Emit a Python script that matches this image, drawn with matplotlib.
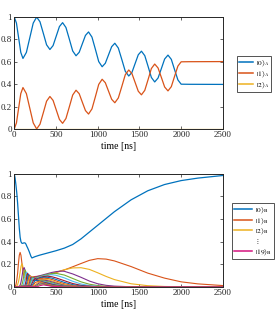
import matplotlib
matplotlib.use("Agg")
import matplotlib.pyplot as plt
from matplotlib.lines import Line2D

# ---- top panel: qubit A populations ----
t_a = [0, 26, 52, 78, 104, 145, 186, 227, 268, 308, 348, 387, 427, 465, 503, 541,
       579, 619, 660, 700, 740, 778, 815, 853, 890, 931, 972, 1012, 1053, 1091, 1129,
       1167, 1205, 1247, 1289, 1330, 1372, 1410, 1448, 1486, 1524, 1564, 1604, 1643,
       1683, 1723, 1763, 1802, 1842, 1882, 1921, 1961, 2000, 2100, 2500]
p0_a = [1.0, 0.946, 0.815, 0.684, 0.63, 0.684, 0.815, 0.946, 1.0, 0.958, 0.855, 0.752,
        0.71, 0.745, 0.83, 0.915, 0.95, 0.907, 0.802, 0.697, 0.654, 0.685, 0.76, 0.836,
        0.867, 0.821, 0.712, 0.602, 0.556, 0.587, 0.661, 0.735, 0.766, 0.723, 0.62, 0.516,
        0.473, 0.505, 0.584, 0.663, 0.695, 0.655, 0.558, 0.46, 0.42, 0.455, 0.54, 0.625,
        0.66, 0.622, 0.53, 0.438, 0.40, 0.399, 0.398]
p1_a = [0.0, 0.054, 0.185, 0.316, 0.37, 0.316, 0.185, 0.054, 0.0, 0.042, 0.145, 0.248,
        0.29, 0.255, 0.17, 0.085, 0.05, 0.093, 0.198, 0.303, 0.346, 0.315, 0.24, 0.164,
        0.133, 0.179, 0.288, 0.398, 0.444, 0.413, 0.339, 0.265, 0.234, 0.277, 0.38, 0.484,
        0.527, 0.495, 0.416, 0.337, 0.305, 0.345, 0.442, 0.54, 0.58, 0.545, 0.46, 0.375,
        0.34, 0.378, 0.47, 0.562, 0.60, 0.601, 0.602]
t_a2 = [0, 2500]
p2_a = [0.0, 0.0]
labels_a = [r'$|0\rangle_A$', r'$|1\rangle_A$', r'$|2\rangle_A$']

# ---- bottom panel: resonator B populations, (time, population) pairs ----
b0 = [(0, 1.0), (10, 0.96), (20, 0.90), (30, 0.83), (40, 0.74), (50, 0.63), (60, 0.52),
      (70, 0.44), (80, 0.40), (90, 0.387), (100, 0.385), (110, 0.388), (120, 0.39),
      (130, 0.388), (140, 0.378), (150, 0.36), (160, 0.345), (170, 0.328), (180, 0.31),
      (190, 0.29), (200, 0.27), (212, 0.256), (230, 0.262), (250, 0.268), (300, 0.28),
      (350, 0.29), (400, 0.30), (450, 0.31), (500, 0.32), (600, 0.343), (700, 0.375),
      (800, 0.425), (900, 0.485), (1000, 0.545), (1100, 0.605), (1200, 0.665),
      (1400, 0.77), (1600, 0.85), (1800, 0.905), (2000, 0.94), (2200, 0.962), (2500, 0.985)]
b1 = [(0, 0), (10, 0.005), (20, 0.02), (30, 0.06), (40, 0.12), (50, 0.21), (60, 0.28),
      (70, 0.305), (80, 0.28), (90, 0.22), (100, 0.16), (110, 0.115), (120, 0.09),
      (130, 0.08), (140, 0.076), (160, 0.078), (180, 0.082), (200, 0.087), (250, 0.092),
      (300, 0.095), (350, 0.099), (400, 0.105), (450, 0.115), (500, 0.127), (600, 0.15),
      (700, 0.178), (800, 0.207), (900, 0.235), (1000, 0.25), (1100, 0.246), (1200, 0.23),
      (1400, 0.18), (1600, 0.122), (1800, 0.078), (2000, 0.045), (2200, 0.027), (2500, 0.012)]
b2 = [(0, 0), (20, 0.002), (30, 0.008), (40, 0.02), (50, 0.045), (60, 0.08), (70, 0.13),
      (80, 0.18), (90, 0.205), (100, 0.19), (110, 0.15), (120, 0.11), (130, 0.08),
      (140, 0.065), (150, 0.058), (170, 0.055), (200, 0.062), (250, 0.072), (300, 0.082),
      (350, 0.093), (400, 0.105), (450, 0.118), (500, 0.13), (600, 0.152), (700, 0.168),
      (800, 0.17), (900, 0.155), (1000, 0.125), (1100, 0.093), (1200, 0.065), (1400, 0.028),
      (1600, 0.011), (1800, 0.004), (2000, 0.0015), (2500, 0)]
b3 = [(0, 0), (60, 0.005), (70, 0.015), (80, 0.04), (90, 0.08), (100, 0.13), (110, 0.165),
      (120, 0.17), (130, 0.14), (140, 0.105), (150, 0.085), (160, 0.075), (180, 0.072),
      (200, 0.075), (250, 0.087), (300, 0.098), (350, 0.108), (400, 0.118), (450, 0.128),
      (500, 0.135), (560, 0.14), (600, 0.138), (700, 0.115), (800, 0.085), (900, 0.052),
      (1000, 0.028), (1100, 0.014), (1200, 0.007), (1400, 0.0015), (2500, 0)]
b4 = [(0, 0), (80, 0.005), (90, 0.015), (100, 0.04), (110, 0.08), (120, 0.125), (130, 0.15),
      (140, 0.13), (150, 0.10), (160, 0.08), (170, 0.07), (180, 0.066), (200, 0.066),
      (250, 0.078), (300, 0.09), (350, 0.102), (400, 0.112), (450, 0.118), (500, 0.12),
      (600, 0.105), (700, 0.075), (800, 0.045), (900, 0.024), (1000, 0.012), (1100, 0.005),
      (1200, 0.002), (2500, 0)]
b5 = [(0, 0), (100, 0.005), (110, 0.02), (120, 0.05), (130, 0.09), (140, 0.125), (150, 0.13),
      (160, 0.11), (170, 0.085), (180, 0.07), (190, 0.063), (200, 0.06), (220, 0.062),
      (250, 0.07), (300, 0.085), (350, 0.097), (400, 0.105), (450, 0.108), (500, 0.103),
      (600, 0.08), (700, 0.05), (800, 0.026), (900, 0.012), (1000, 0.005), (1100, 0.002),
      (2500, 0)]
b6 = [(0, 0), (120, 0.005), (130, 0.02), (140, 0.05), (150, 0.09), (160, 0.12), (170, 0.11),
      (180, 0.085), (190, 0.068), (200, 0.06), (220, 0.058), (250, 0.065), (300, 0.08),
      (350, 0.092), (400, 0.095), (450, 0.09), (500, 0.08), (600, 0.055), (700, 0.03),
      (800, 0.014), (900, 0.006), (1000, 0.002), (2500, 0)]
b7 = [(0, 0), (130, 0.003), (140, 0.015), (150, 0.04), (160, 0.08), (170, 0.108),
      (180, 0.105), (190, 0.085), (200, 0.068), (220, 0.058), (250, 0.062), (300, 0.075),
      (350, 0.085), (400, 0.085), (450, 0.078), (500, 0.066), (600, 0.04), (700, 0.02),
      (800, 0.008), (900, 0.003), (2500, 0)]
b8 = [(0, 0), (150, 0.01), (160, 0.035), (170, 0.07), (180, 0.098), (190, 0.10), (200, 0.085),
      (220, 0.062), (250, 0.06), (300, 0.07), (350, 0.077), (400, 0.075), (450, 0.066),
      (500, 0.053), (600, 0.028), (700, 0.012), (800, 0.004), (2500, 0)]
b9 = [(0, 0), (160, 0.01), (170, 0.035), (180, 0.07), (190, 0.092), (200, 0.094), (220, 0.07),
      (250, 0.058), (300, 0.064), (350, 0.068), (400, 0.064), (450, 0.054), (500, 0.042),
      (600, 0.02), (700, 0.008), (800, 0.002), (2500, 0)]
b10 = [(0, 0), (170, 0.01), (180, 0.03), (190, 0.065), (200, 0.088), (220, 0.08), (250, 0.058),
       (300, 0.058), (350, 0.06), (400, 0.055), (450, 0.045), (500, 0.034), (600, 0.014),
       (700, 0.005), (800, 0.001), (2500, 0)]
b11 = [(0, 0), (180, 0.01), (190, 0.03), (200, 0.06), (220, 0.085), (250, 0.062), (300, 0.054),
       (350, 0.053), (400, 0.047), (450, 0.037), (500, 0.027), (600, 0.01), (700, 0.003),
       (2500, 0)]
b12 = [(0, 0), (190, 0.01), (200, 0.03), (220, 0.075), (250, 0.07), (300, 0.05), (350, 0.047),
       (400, 0.04), (450, 0.03), (500, 0.021), (600, 0.007), (700, 0.002), (2500, 0)]
b13 = [(0, 0), (200, 0.01), (220, 0.045), (250, 0.075), (300, 0.048), (350, 0.042),
       (400, 0.034), (450, 0.024), (500, 0.016), (600, 0.005), (700, 0.001), (2500, 0)]
b14 = [(0, 0), (200, 0.003), (220, 0.02), (250, 0.06), (300, 0.05), (350, 0.038), (400, 0.029),
       (450, 0.02), (500, 0.012), (600, 0.003), (2500, 0)]
b15 = [(0, 0), (220, 0.005), (250, 0.04), (300, 0.05), (350, 0.035), (400, 0.024),
       (450, 0.016), (500, 0.009), (600, 0.002), (2500, 0)]
b16 = [(0, 0), (230, 0.004), (250, 0.02), (300, 0.045), (350, 0.032), (400, 0.02),
       (450, 0.012), (500, 0.007), (600, 0.001), (2500, 0)]
b17 = [(0, 0), (240, 0.002), (250, 0.008), (300, 0.035), (350, 0.03), (400, 0.017),
       (450, 0.01), (500, 0.005), (2500, 0)]
b18 = [(0, 0), (260, 0.003), (300, 0.022), (350, 0.026), (400, 0.015), (450, 0.008),
       (500, 0.004), (2500, 0)]
b19 = [(0, 0), (280, 0.002), (300, 0.01), (350, 0.018), (400, 0.012), (450, 0.006),
       (500, 0.003), (600, 0), (2500, 0)]
states_b = [b0, b1, b2, b3, b4, b5, b6, b7, b8, b9, b10, b11, b12, b13, b14, b15, b16,
            b17, b18, b19]
labels_b = [r'$|0\rangle_{\rm B}$', r'$|1\rangle_{\rm B}$', r'$|2\rangle_{\rm B}$',
            r'$\vdots$', r'$|19\rangle_{\rm B}$']

# matlab default colour order
mcol = ['#0072BD', '#D95319', '#EDB120', '#7E2F8E', '#77AC30', '#4DBEEE', '#A2142F']
magenta = '#D4147F'

plt.rcParams['font.family'] = ['Liberation Serif', 'DejaVu Serif']
plt.rcParams['mathtext.fontset'] = 'stix'
plt.rcParams['font.size'] = 6.5

fig = plt.figure(figsize=(2.8, 3.16), dpi=100)
ax1 = fig.add_axes([0.051, 0.592, 0.745, 0.354])
ax2 = fig.add_axes([0.051, 0.092, 0.745, 0.358])

lw = 0.9
ax1.plot(t_a, p0_a, color=mcol[0], lw=lw)
ax1.plot(t_a, p1_a, color=mcol[1], lw=lw)
ax1.plot(t_a2, p2_a, color=mcol[2], lw=lw)

for k, st in enumerate(states_b):
    ts = [p[0] for p in st]
    vs = [p[1] for p in st]
    c = magenta if k == 19 else mcol[k % 7]
    ax2.plot(ts, vs, color=c, lw=0.8 if k > 0 else lw)

for ax in (ax1, ax2):
    ax.set_xlim(0, 2500)
    ax.set_ylim(0, 1)
    ax.set_xticks([0, 500, 1000, 1500, 2000, 2500])
    ax.set_yticks([0, 0.2, 0.4, 0.6, 0.8, 1])
    ax.set_yticklabels(['0', '0.2', '0.4', '0.6', '0.8', '1'])
    ax.tick_params(direction='in', top=True, right=True, length=2, width=0.5,
                   pad=1.5, labelsize=6.5, colors='#262626')
    for sp in ax.spines.values():
        sp.set_linewidth(0.7)
        sp.set_color('#262626')
    ax.set_xlabel('time [ns]', fontsize=7, labelpad=2)

h_a = [Line2D([], [], color=mcol[i], lw=1.1) for i in range(3)]
fig.legend(h_a, labels_a, loc='upper left', bbox_to_anchor=(0.846, 0.822),
           fontsize=5.3, frameon=True, fancybox=False, edgecolor='#262626',
           handlelength=1.9, handletextpad=0.4, borderpad=0.3, labelspacing=0.1,
           borderaxespad=0).get_frame().set_linewidth(0.7)

h_b = [Line2D([], [], color=mcol[0], lw=1.1), Line2D([], [], color=mcol[1], lw=1.1),
       Line2D([], [], color=mcol[2], lw=1.1), Line2D([], [], color='none'),
       Line2D([], [], color=magenta, lw=1.1)]
fig.legend(h_b, labels_b, loc='upper left', bbox_to_anchor=(0.829, 0.358),
           fontsize=5.3, frameon=True, fancybox=False, edgecolor='#262626',
           handlelength=2.4, handletextpad=0.4, borderpad=0.3, labelspacing=0.1,
           borderaxespad=0).get_frame().set_linewidth(0.7)

fig.savefig('out.png', dpi=100)
